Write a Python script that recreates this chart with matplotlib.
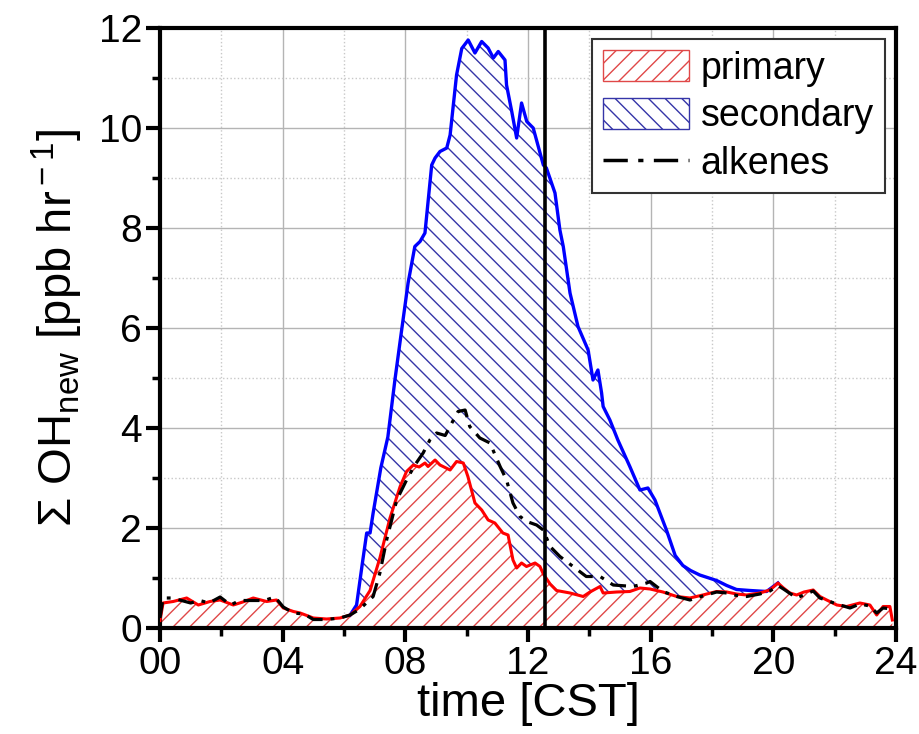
import numpy as np
import matplotlib
matplotlib.use("Agg")
from matplotlib import pyplot as plt
from matplotlib.patches import Patch
from matplotlib.lines import Line2D
from matplotlib.ticker import MultipleLocator, FuncFormatter

plt.rcParams['font.family'] = ['Liberation Sans', 'DejaVu Sans']
plt.rcParams['mathtext.fontset'] = 'custom'
plt.rcParams['mathtext.rm'] = 'Liberation Sans'
plt.rcParams['mathtext.it'] = 'Liberation Sans:italic'
plt.rcParams['hatch.linewidth'] = 1.0

# primary production (red)
t_pri = [0.0, 0.1, 0.43, 0.87, 1.25, 1.63, 1.96, 2.39, 2.7, 3.04, 3.48, 3.8, 4.02, 4.35,
         4.57, 5.0, 5.43, 5.87, 6.2, 6.52, 6.85, 7.17, 7.5, 7.83, 8.04, 8.26, 8.45, 8.64,
         8.74, 8.97, 9.13, 9.46, 9.67, 9.89, 10.04, 10.27, 10.49, 10.7, 10.92, 11.18,
         11.35, 11.51, 11.63, 11.79, 11.95, 12.23, 12.39, 12.5, 12.72, 12.93, 13.37, 13.8,
         14.02, 14.35, 14.45, 14.89, 15.32, 15.65, 15.98, 16.4, 16.85, 17.28, 17.7, 18.15,
         18.48, 18.8, 19.13, 19.56, 19.89, 20.15, 20.33, 20.54, 20.76, 21.0, 21.3, 21.52,
         21.74, 22.07, 22.39, 22.82, 23.15, 23.37, 23.58, 23.8, 23.88]
primary = [0.15, 0.5, 0.53, 0.6, 0.46, 0.53, 0.56, 0.46, 0.52, 0.6, 0.53, 0.56, 0.4, 0.33,
           0.3, 0.2, 0.18, 0.2, 0.26, 0.43, 0.75, 1.4, 2.2, 2.83, 3.13, 3.26, 3.22, 3.3,
           3.23, 3.36, 3.26, 3.16, 3.33, 3.3, 3.03, 2.5, 2.36, 2.16, 2.1, 1.9,
           1.86, 1.36, 1.2, 1.3, 1.23, 1.3, 1.23, 1.08, 0.88, 0.75, 0.7, 0.63,
           0.72, 0.83, 0.7, 0.72, 0.73, 0.8, 0.78, 0.72, 0.63, 0.6, 0.66, 0.73,
           0.72, 0.68, 0.66, 0.7, 0.76, 0.9, 0.8, 0.7, 0.66, 0.72, 0.76, 0.63,
           0.56, 0.46, 0.43, 0.5, 0.46, 0.26, 0.43, 0.43, 0.16]

# primary + secondary (blue upper edge)
t_sec = [6.2, 6.41, 6.6, 6.74, 6.85, 6.95, 7.2, 7.43, 7.66, 7.88, 8.09, 8.31, 8.48, 8.64,
         8.86, 8.97, 9.13, 9.35, 9.46, 9.67, 9.84, 10.05, 10.27, 10.49, 10.7, 10.87, 11.03,
         11.25, 11.3, 11.47, 11.63, 11.79, 11.96, 12.17, 12.5, 12.6, 12.88, 13.04, 13.15,
         13.37, 13.63, 13.96, 14.12, 14.28, 14.4, 14.45, 14.67, 14.93, 15.32, 15.65, 15.91,
         16.14, 16.52, 16.8, 17.05, 17.3, 17.6, 18.15, 18.48, 18.8, 19.24, 19.78, 20.15]
total = [0.26, 0.46, 1.3, 1.9, 1.9, 2.3, 3.2, 3.82, 4.96, 5.96, 6.9, 7.63, 7.73, 7.9,
         9.26, 9.4, 9.53, 9.6, 9.86, 11.06, 11.59, 11.76, 11.5, 11.73, 11.6, 11.4, 11.53,
         11.36, 10.86, 10.33, 9.8, 10.5, 10.13, 10.0, 9.26, 9.2, 8.7, 7.96, 7.63,
         6.7, 6.03, 5.56, 4.96, 5.16, 4.7, 4.43, 4.16, 3.76, 3.23, 2.76, 2.8,
         2.56, 1.95, 1.45, 1.25, 1.15, 1.06, 0.95, 0.85, 0.77, 0.75, 0.73, 0.9]

# alkenes
t_alk = [0.0, 0.1, 0.4, 0.7, 1.0, 1.3, 1.6, 1.96, 2.3, 2.6, 3.0, 3.4, 3.75, 4.02, 4.35,
         4.7, 5.0, 5.43, 5.87, 6.2, 6.52, 6.95, 7.17, 7.39, 7.72, 8.04, 8.3, 8.58, 8.8,
         9.02, 9.3, 9.56, 9.72, 9.95, 10.1, 10.43, 10.76, 11.09, 11.3, 11.51, 11.74, 11.96,
         12.28, 12.5, 12.72, 13.04, 13.47, 13.9, 14.35, 14.78, 15.43, 15.87, 15.98, 16.4,
         16.85, 17.28, 17.7, 18.15, 18.48, 18.8, 19.13, 19.56, 19.89, 20.15, 20.33, 20.76,
         21.3, 21.52, 22.07, 22.5, 22.82, 23.15, 23.37, 23.58, 23.9, 24.0]
alkenes = [0.2, 0.6, 0.6, 0.55, 0.5, 0.55, 0.5, 0.62, 0.46, 0.55, 0.55, 0.55, 0.62, 0.42, 0.3,
           0.28, 0.17, 0.17, 0.2, 0.26, 0.38, 0.63, 1.1, 1.76, 2.56, 2.96, 3.25, 3.5, 3.76,
           3.9, 3.85, 4.15, 4.33, 4.36, 4.03, 3.8, 3.7, 3.23, 2.96, 2.5, 2.23, 2.13,
           2.06, 1.96, 1.63, 1.43, 1.23, 1.03, 1.03, 0.86, 0.83, 0.9, 0.93, 0.73,
           0.63, 0.56, 0.64, 0.72, 0.7, 0.65, 0.63, 0.68, 0.74, 0.85, 0.78, 0.6,
           0.74, 0.6, 0.48, 0.4, 0.48, 0.44, 0.3, 0.4, 0.38, 0.35]

t_marker = 12.57

t_pri = np.array(t_pri); primary = np.array(primary)
t_sec = np.array(t_sec); total = np.array(total)

fig = plt.figure(figsize=(9.2, 7.34), dpi=100)
ax = fig.add_axes([160/920, 1 - 628/734, 736/920, 600/734])

# grid
ax.xaxis.set_major_locator(MultipleLocator(4))
ax.xaxis.set_minor_locator(MultipleLocator(2))
ax.yaxis.set_major_locator(MultipleLocator(2))
ax.yaxis.set_minor_locator(MultipleLocator(1))
ax.grid(which='major', color='#b4b4b4', lw=1.0, ls='-')
ax.grid(which='minor', color='#c8c8c8', lw=1.0, ls=':')
ax.set_axisbelow(True)

# primary area
ax.fill_between(t_pri, 0, primary, facecolor='white', edgecolor='#e04848',
                hatch='//', linewidth=0, zorder=2)

# secondary area between the red and blue curves
m = (t_pri >= t_sec[0]) & (t_pri <= t_sec[-1])
poly_t = np.concatenate([t_sec, t_pri[m][::-1]])
poly_v = np.concatenate([total, primary[m][::-1]])
ax.fill(poly_t, poly_v, facecolor='white', edgecolor='#3535a8', hatch='\\\\',
        linewidth=0, zorder=2)

ax.plot(t_sec, total, color='#0000ff', lw=2.4, zorder=3)
ax.plot(t_pri, primary, color='#ff0000', lw=2.2, zorder=4)
ax.plot(t_alk, alkenes, color='black', lw=2.3, dashes=(5, 2.5, 1.2, 2.5), zorder=5)

ax.axvline(t_marker, color='black', lw=2.6, zorder=6)

ax.set_xlim(0, 24)
ax.set_ylim(0, 12)

for s in ax.spines.values():
    s.set_linewidth(3)
ax.tick_params(which='major', direction='out', length=10, width=3, labelsize=28, pad=3)
ax.tick_params(which='minor', direction='out', length=6, width=2.5)
ax.xaxis.set_major_formatter(FuncFormatter(lambda v, p: '%02d' % v))

ax.set_xlabel('time [CST]', fontsize=34, labelpad=0)
ax.set_ylabel(r'$\Sigma$ OH$_{\rm new}$ [ppb hr$^{\rm -1}$]', fontsize=34, labelpad=10)

handles = [Patch(facecolor='white', edgecolor='#e04848', hatch='//', lw=1),
           Patch(facecolor='white', edgecolor='#3535a8', hatch='\\\\', lw=1),
           Line2D([], [], color='black', lw=2.5, dashes=(7, 3, 1.5, 3))]
leg = ax.legend(handles, ['primary', 'secondary', 'alkenes'], loc='upper right',
                bbox_to_anchor=(0.985, 0.982), borderaxespad=0, fontsize=27,
                fancybox=False, framealpha=1, edgecolor='#333333',
                handlelength=2.3, handleheight=0.9, labelspacing=0.3,
                handletextpad=0.3, borderpad=0.3)
leg.get_frame().set_linewidth(1.5)
leg.set_zorder(10)

fig.savefig('out.png', dpi=100)
